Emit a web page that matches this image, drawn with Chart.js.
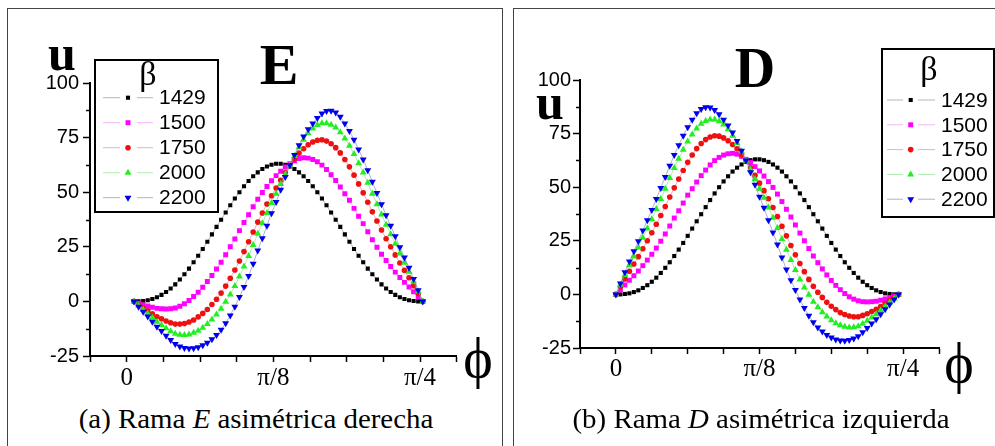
<!DOCTYPE html>
<html>
<head>
<meta charset="utf-8">
<script src="https://cdn.jsdelivr.net/npm/chart.js@4.4.0/dist/chart.umd.min.js"></script>
<style>
  html, body { margin: 0; padding: 0; background: #fff; }
  body { width: 995px; height: 446px; position: relative; overflow: hidden; }
  .frame { position: absolute; top: 8px; height: 470px; border: 1.5px solid #444; box-sizing: border-box; }
  canvas { position: absolute; top: 0; }
  .txt { position: absolute; line-height: 1; white-space: nowrap; transform: translateX(-50%);
         font-family: "Liberation Serif", serif; color: #000; }
  .big { font-weight: bold; }
  .cap { font-size: 27px; transform: translateX(-50%) scaleX(1.07); }
</style>
</head>
<body>
<div class="frame" style="left:7px; width:496px;"></div>
<div class="frame" style="left:513px; width:500px;"></div>

<canvas id="chartE" width="500" height="400" style="left:0"></canvas>
<canvas id="chartD" width="500" height="400" style="left:495px"></canvas>

<div class="txt big" style="left:62px; top:28px; font-size:50px;">u</div>
<div class="txt big" style="left:279px; top:36px; font-size:58px;">E</div>
<div class="txt" style="left:478px; top:330px; font-size:56px;">ϕ</div>
<div class="txt cap" style="left:256px; top:406px;">(a) Rama <i>E</i> asimétrica derecha</div>

<div class="txt big" style="left:550px; top:77px; font-size:50px;">u</div>
<div class="txt big" style="left:755px; top:40px; font-size:56px;">D</div>
<div class="txt" style="left:959px; top:335px; font-size:56px;">ϕ</div>
<div class="txt cap" style="left:761px; top:406px;">(b) Rama <i>D</i> asimétrica izquierda</div>

<script>
// beta values of the five curves
const betas = ['1429', '1500', '1750', '2000', '2200'];

// phi axis labels (phi measured in units of pi/32)
const phiLabels = { 0: '0', 4: 'π/8', 8: 'π/4' };

// branch D (left-asymmetric): phi in units of pi/32
const phiD = [0, 0.125, 0.25, 0.375, 0.5, 0.625, 0.75, 0.875, 1, 1.125, 1.25, 1.375, 1.5, 1.625, 1.75, 1.875,
  2, 2.125, 2.25, 2.375, 2.5, 2.625, 2.75, 2.875, 3, 3.125, 3.25, 3.375, 3.5, 3.625, 3.75, 3.875,
  4, 4.125, 4.25, 4.375, 4.5, 4.625, 4.75, 4.875, 5, 5.125, 5.25, 5.375, 5.5, 5.625, 5.75, 5.875,
  6, 6.125, 6.25, 6.375, 6.5, 6.625, 6.75, 6.875, 7, 7.125, 7.25, 7.375, 7.5, 7.625, 7.75, 7.875];

const uD1429 = [0, 0, 0.2, 0.5, 1.1, 1.9, 3.0, 4.3, 5.9, 7.8, 10.0, 12.4, 15.0, 17.9, 20.9, 24.0,
  27.3, 30.7, 34.1, 37.4, 40.7, 44.0, 47.1, 50.0, 52.7, 55.1, 57.3, 59.1, 60.6, 61.8, 62.6, 63.0,
  63.0, 62.6, 61.8, 60.6, 59.1, 57.3, 55.1, 52.7, 50.0, 47.1, 44.0, 40.7, 37.4, 34.1, 30.7, 27.3,
  24.0, 20.9, 17.9, 15.0, 12.4, 10.0, 7.8, 5.9, 4.3, 3.0, 1.9, 1.1, 0.5, 0.2, 0, 0];
const uD1500 = [0, 2.1, 4.4, 6.6, 8.7, 10.9, 13.4, 16.0, 18.7, 21.6, 24.8, 28.2, 31.9, 35.6, 39.0, 42.6,
  46.3, 49.3, 52.4, 55.4, 58.0, 60.4, 62.4, 63.9, 65.0, 65.6, 65.8, 65.4, 64.4, 63.0, 61.5, 59.6,
  57.6, 55.2, 52.6, 49.9, 46.8, 43.3, 39.7, 36.1, 32.4, 28.6, 25.0, 21.4, 17.9, 14.8, 11.9, 9.1,
  6.5, 4.2, 2.2, 0.4, -1.1, -2.2, -3.0, -3.4, -3.5, -3.4, -3.2, -2.7, -2.1, -1.5, -0.8, 0];
const uD1750 = [0, 3.6, 7.2, 10.8, 14.2, 17.6, 21.3, 25.0, 28.7, 32.7, 36.8, 41.0, 45.4, 49.7, 53.8, 57.8,
  61.6, 65.0, 68.0, 70.4, 72.2, 73.4, 74.0, 73.8, 73.0, 71.7, 69.9, 67.9, 65.2, 62.1, 59.0, 55.5,
  51.9, 48.4, 44.6, 40.5, 36.3, 31.8, 27.3, 22.8, 18.5, 14.4, 10.6, 7.0, 3.8, 1.0, -1.4, -3.7,
  -5.5, -7.1, -8.5, -9.4, -10.1, -10.4, -10.4, -9.8, -9.0, -8.0, -7.0, -5.7, -4.3, -2.9, -1.5, 0];
const uD2000 = [0, 4.5, 9.1, 13.6, 17.7, 21.9, 26.4, 30.7, 35.1, 39.8, 44.5, 49.3, 54.3, 59.0, 63.3, 67.5,
  71.3, 74.6, 77.4, 79.6, 80.9, 81.6, 81.6, 80.8, 79.2, 77.0, 74.0, 70.6, 66.6, 62.3, 58.2, 53.7,
  49.3, 45.1, 40.5, 35.8, 31.0, 25.8, 20.8, 16.0, 11.4, 7.0, 3.2, -0.2, -3.4, -6.0, -8.3, -10.3,
  -12.1, -13.4, -14.4, -15.1, -15.4, -15.3, -14.8, -13.7, -12.3, -10.8, -9.3, -7.5, -5.6, -3.8, -2.0, 0];
const uD2200 = [0, 5.1, 10.3, 15.4, 20.1, 24.8, 29.8, 34.6, 39.4, 44.5, 49.6, 54.8, 60.0, 65.0, 69.6, 74.0,
  78.0, 81.5, 84.5, 86.5, 87.3, 87.2, 86.0, 84.0, 81.5, 78.8, 75.5, 71.5, 67.0, 62.4, 57.0, 51.1,
  45.5, 40.4, 34.6, 28.9, 23.3, 17.2, 11.6, 6.6, 2.0, -2.4, -6.4, -10.0, -13.0, -15.4, -17.3, -18.9,
  -20.1, -21.0, -21.5, -21.6, -21.3, -20.6, -19.5, -17.7, -15.7, -13.6, -11.6, -9.3, -6.9, -4.7, -2.4, 0];

// branch E (right-asymmetric): phi in units of pi/32
const phiE = [0.2, 0.325, 0.45, 0.575, 0.7, 0.825, 0.95, 1.075, 1.2, 1.325, 1.45, 1.575, 1.7, 1.825, 1.95, 2.075,
  2.2, 2.325, 2.45, 2.575, 2.7, 2.825, 2.95, 3.075, 3.2, 3.325, 3.45, 3.575, 3.7, 3.825, 3.95, 4.075,
  4.2, 4.325, 4.45, 4.575, 4.7, 4.825, 4.95, 5.075, 5.2, 5.325, 5.45, 5.575, 5.7, 5.825, 5.95, 6.075,
  6.2, 6.325, 6.45, 6.575, 6.7, 6.825, 6.95, 7.075, 7.2, 7.325, 7.45, 7.575, 7.7, 7.825, 7.95, 8.075];

const uE1429 = [0, 0, 0.2, 0.5, 1.1, 1.9, 3.0, 4.3, 5.9, 7.8, 10.0, 12.4, 15.0, 17.9, 20.9, 24.0,
  27.3, 30.7, 34.1, 37.4, 40.7, 44.0, 47.1, 50.0, 52.7, 55.1, 57.3, 59.1, 60.6, 61.8, 62.6, 63.0,
  63.0, 62.6, 61.8, 60.6, 59.1, 57.3, 55.1, 52.7, 50.0, 47.1, 44.0, 40.7, 37.4, 34.1, 30.7, 27.3,
  24.0, 20.9, 17.9, 15.0, 12.4, 10.0, 7.8, 5.9, 4.3, 3.0, 1.9, 1.1, 0.5, 0.2, 0, 0];
const uE1500 = [0, -0.8, -1.5, -2.1, -2.7, -3.2, -3.4, -3.5, -3.4, -3.0, -2.2, -1.1, 0.4, 2.2, 4.2, 6.5,
  9.1, 11.9, 14.8, 17.9, 21.4, 25.0, 28.6, 32.4, 36.1, 39.7, 43.3, 46.8, 49.9, 52.6, 55.2, 57.6,
  59.6, 61.5, 63.0, 64.4, 65.4, 65.8, 65.6, 65.0, 63.9, 62.4, 60.4, 58.0, 55.4, 52.4, 49.3, 46.3,
  42.6, 39.0, 35.6, 31.9, 28.2, 24.8, 21.6, 18.7, 16.0, 13.4, 10.9, 8.7, 6.6, 4.4, 2.1, 0];
const uE1750 = [0, -1.5, -2.9, -4.3, -5.7, -7.0, -8.0, -9.0, -9.8, -10.4, -10.4, -10.1, -9.4, -8.5, -7.1, -5.5,
  -3.7, -1.4, 1.0, 3.8, 7.0, 10.6, 14.4, 18.5, 22.8, 27.3, 31.8, 36.3, 40.5, 44.6, 48.4, 51.9,
  55.5, 59.0, 62.1, 65.2, 67.9, 69.9, 71.7, 73.0, 73.8, 74.0, 73.4, 72.2, 70.4, 68.0, 65.0, 61.6,
  57.8, 53.8, 49.7, 45.4, 41.0, 36.8, 32.7, 28.7, 25.0, 21.3, 17.6, 14.2, 10.8, 7.2, 3.6, 0];
const uE2000 = [0, -2.0, -3.8, -5.6, -7.5, -9.3, -10.8, -12.3, -13.7, -14.8, -15.3, -15.4, -15.1, -14.4, -13.4, -12.1,
  -10.3, -8.3, -6.0, -3.4, -0.2, 3.2, 7.0, 11.4, 16.0, 20.8, 25.8, 31.0, 35.8, 40.5, 45.1, 49.3,
  53.7, 58.2, 62.3, 66.6, 70.6, 74.0, 77.0, 79.2, 80.8, 81.6, 81.6, 80.9, 79.6, 77.4, 74.6, 71.3,
  67.5, 63.3, 59.0, 54.3, 49.3, 44.5, 39.8, 35.1, 30.7, 26.4, 21.9, 17.7, 13.6, 9.1, 4.5, 0];
const uE2200 = [0, -2.4, -4.7, -6.9, -9.3, -11.6, -13.6, -15.7, -17.7, -19.5, -20.6, -21.3, -21.6, -21.5, -21.0, -20.1,
  -18.9, -17.3, -15.4, -13.0, -10.0, -6.4, -2.4, 2.0, 6.6, 11.6, 17.2, 23.3, 28.9, 34.6, 40.4, 45.5,
  51.1, 57.0, 62.4, 67.0, 71.5, 75.5, 78.8, 81.5, 84.0, 86.0, 87.2, 87.3, 86.5, 84.5, 81.5, 78.0,
  74.0, 69.6, 65.0, 60.0, 54.8, 49.6, 44.5, 39.4, 34.6, 29.8, 24.8, 20.1, 15.4, 10.3, 5.1, 0];

// marker look for each beta
const looks = [
  { color: '#000000', line: 'rgba(90,90,90,0.45)',   shape: 'rect',     r: 2.9, rot: 0 },
  { color: '#ff00ff', line: 'rgba(240,120,240,0.55)', shape: 'rect',     r: 3.5, rot: 0 },
  { color: '#ee1111', line: 'rgba(230,110,110,0.55)', shape: 'circle',   r: 2.8, rot: 0 },
  { color: '#22ee22', line: 'rgba(110,220,110,0.55)', shape: 'triangle', r: 4.0, rot: 0 },
  { color: '#0000ee', line: 'rgba(110,110,170,0.55)', shape: 'triangle', r: 4.0, rot: 180 },
];

function makeDatasets(phi, curves) {
  return curves.map((u, k) => ({
    label: betas[k],
    data: phi.map((x, i) => ({ x: x, y: u[i] })),
    borderColor: looks[k].line,
    borderWidth: 1,
    pointStyle: looks[k].shape,
    pointRotation: looks[k].rot,
    pointRadius: looks[k].r,
    pointBackgroundColor: looks[k].color,
    pointBorderWidth: 0,
    tension: 0,
    order: curves.length - k,
  }));
}

function drawMarker(ctx, ds, x, y) {
  const opts = { pointStyle: ds.pointStyle, rotation: ds.pointRotation, radius: ds.pointRadius, borderWidth: 0 };
  ctx.fillStyle = ds.pointBackgroundColor;
  if (Chart.helpers && Chart.helpers.drawPoint) {
    Chart.helpers.drawPoint(ctx, opts, x, y);
  } else {
    ctx.beginPath();
    ctx.arc(x, y, ds.pointRadius, 0, Math.PI * 2);
    ctx.fill();
  }
}

// short minor ticks halfway between the labelled u ticks
const minorTicks = {
  id: 'minorTicks',
  afterDraw(chart) {
    const y = chart.scales.y;
    const ctx = chart.ctx;
    ctx.save();
    ctx.strokeStyle = '#000';
    ctx.lineWidth = 1.5;
    ctx.beginPath();
    for (let v = y.min + 12.5; v < y.max; v += 25) {
      const py = Math.round(y.getPixelForValue(v)) + 0.5;
      ctx.moveTo(y.right - 4, py);
      ctx.lineTo(y.right, py);
    }
    ctx.stroke();
    ctx.restore();
  }
};

// boxed legend with the beta heading, drawn inside the plot
const betaLegend = {
  id: 'betaLegend',
  afterDraw(chart, args, o) {
    const ctx = chart.ctx;
    ctx.save();
    ctx.fillStyle = '#fff';
    ctx.fillRect(o.x, o.y, o.w, o.h);
    ctx.lineWidth = 2;
    ctx.strokeStyle = '#000';
    ctx.strokeRect(o.x, o.y, o.w, o.h);

    ctx.fillStyle = '#000';
    ctx.textAlign = 'center';
    ctx.textBaseline = 'middle';
    ctx.font = '34px "Liberation Serif", serif';
    ctx.fillText('β', o.betaX, o.betaY);

    ctx.font = '21px "Liberation Sans", sans-serif';
    ctx.textAlign = 'left';
    chart.data.datasets.forEach((ds, k) => {
      const y = o.rowY + k * o.rowGap;
      ctx.strokeStyle = ds.borderColor;
      ctx.lineWidth = 1;
      ctx.beginPath();
      ctx.moveTo(o.segA[0], y); ctx.lineTo(o.segA[1], y);
      ctx.moveTo(o.segB[0], y); ctx.lineTo(o.segB[1], y);
      ctx.stroke();
      drawMarker(ctx, ds, o.markX, y);
      ctx.fillStyle = '#000';
      ctx.fillText(ds.label, o.textX, y + 1);
    });
    ctx.restore();
  }
};

function makeChart(id, phi, curves, g) {
  return new Chart(document.getElementById(id), {
    type: 'line',
    data: { datasets: makeDatasets(phi, curves) },
    plugins: [minorTicks, betaLegend],
    options: {
      responsive: false,
      animation: false,
      events: [],
      layout: { padding: { left: 0, top: g.top, right: g.right, bottom: 0 } },
      plugins: {
        legend: { display: false },
        tooltip: { enabled: false },
        betaLegend: g.legend,
      },
      scales: {
        x: {
          type: 'linear',
          min: -1,
          max: 9,
          afterFit: (s) => { s.height = g.xHeight; },
          border: { color: '#000', width: 2 },
          grid: { drawOnChartArea: false, tickLength: 6, tickColor: '#000', tickWidth: 1.5 },
          ticks: {
            stepSize: 1,
            autoSkip: false,
            maxRotation: 0,
            padding: g.xPad,
            color: '#000',
            font: { family: '"Liberation Serif", serif', size: 25 },
            callback: (v) => phiLabels[v] ?? '',
          },
        },
        y: {
          min: -25,
          max: 100,
          afterFit: (s) => { s.width = g.yWidth; },
          border: { color: '#000', width: 2 },
          grid: { drawOnChartArea: false, tickLength: 7, tickColor: '#000', tickWidth: 1.5 },
          ticks: {
            stepSize: 25,
            autoSkip: false,
            padding: g.yPad,
            color: '#000',
            font: { family: '"Liberation Sans", sans-serif', size: 20 },
          },
        },
      },
    },
  });
}

makeChart('chartE', phiE, [uE1429, uE1500, uE1750, uE2000, uE2200], {
  top: 83, right: 43.3, yWidth: 90, xHeight: 44, xPad: 1, yPad: 4,
  legend: { x: 95, y: 60, w: 123, h: 152, betaX: 148, betaY: 76,
            rowY: 97.7, rowGap: 25, segA: [103, 120], segB: [137, 153], markX: 128, textX: 159 },
});

makeChart('chartD', phiD, [uD1429, uD1500, uD1750, uD2000, uD2200], {
  top: 80, right: 56, yWidth: 85, xHeight: 52, xPad: 0, yPad: 2,
  legend: { x: 387, y: 49, w: 112, h: 168, betaX: 434, betaY: 71,
            rowY: 100, rowGap: 24.8, segA: [392, 408], segB: [423, 440], markX: 415.7, textX: 446 },
});
</script>
</body>
</html>
